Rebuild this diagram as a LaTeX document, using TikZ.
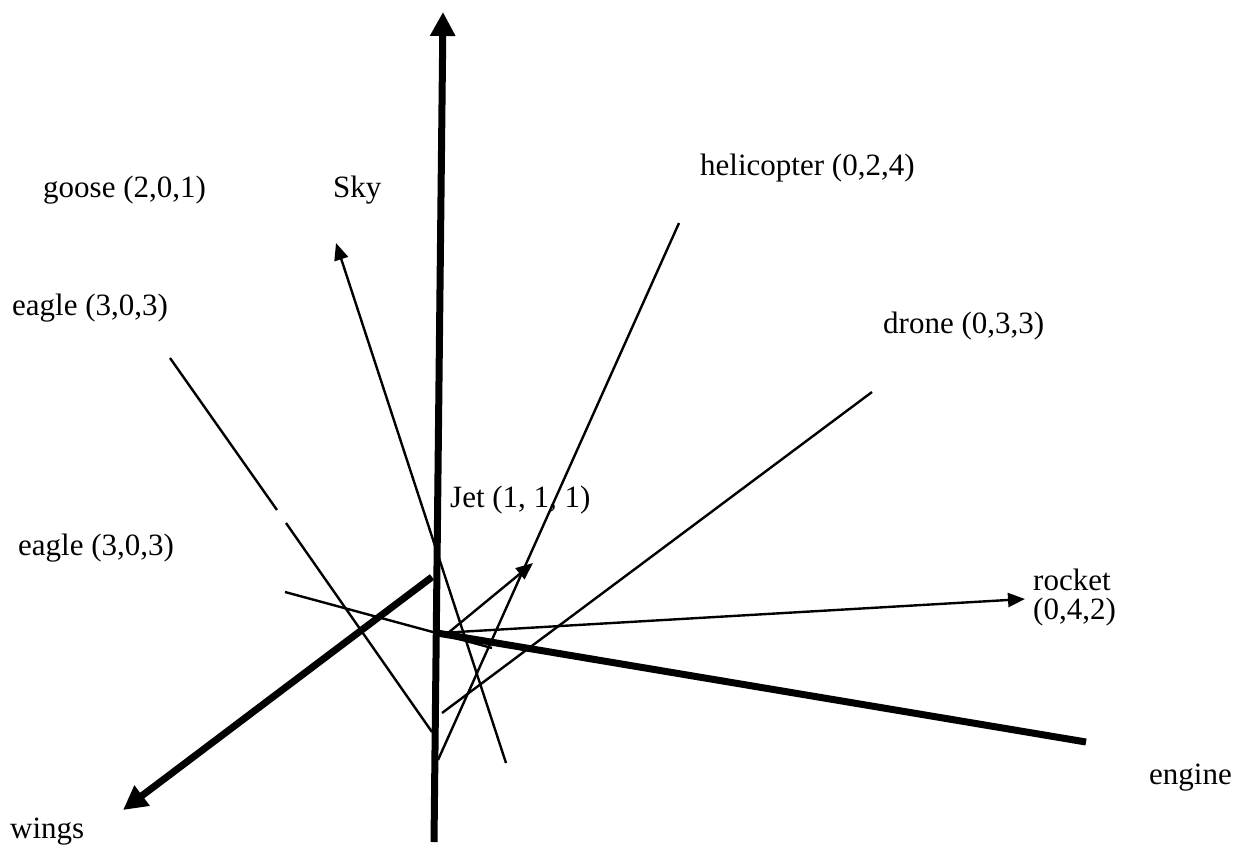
\documentclass[tikz,border=0pt]{standalone}
\usepackage{fontspec}
\setmainfont{Liberation Serif}
\usetikzlibrary{arrows.meta}
\begin{document}
\begin{tikzpicture}[x=1pt,y=-1pt,
  thinline/.style={line width=2.4pt},
  thickline/.style={line width=7pt},
  thinarrow/.style={thinline,-{Triangle[length=17pt,width=14pt]}},
  thickarrow/.style={thickline,-{Triangle[length=24pt,width=24pt]}},
  lbl/.style={inner sep=0pt,anchor=base west,font=\fontsize{31}{36}\selectfont}]
\useasboundingbox (0,0) rectangle (1236,849);
% labels
\node[lbl] (goose) at (43,197) {goose (2,0,1)};
\node[lbl] (sky) at (333,197) {Sky};
\node[lbl] (heli) at (700,175) {helicopter (0,2,4)};
\node[lbl] (eagleA) at (12,315) {eagle (3,0,3)};
\node[lbl] (drone) at (883,333) {drone (0,3,3)};
\node[lbl] (jet) at (450,507) {Jet (1, 1, 1)};
\node[lbl] (eagleB) at (18,555) {eagle (3,0,3)};
\node[lbl] (rocket) at (1033,590) {rocket};
\node[lbl] (rocketc) at (1033,619) {(0,4,2)};
\node[lbl] (engine) at (1149,784) {engine};
\node[lbl] (wings) at (10,838) {wings};
% coordinates
\coordinate (skyA) at (506,763);
\coordinate (skyB) at (336,243);
\coordinate (e1a) at (170,358);
\coordinate (e1b) at (277,510);
\coordinate (e1c) at (286,523);
\coordinate (e1d) at (432,732);
\coordinate (e2a) at (285,592);
\coordinate (e2b) at (492,648);
\coordinate (jetA) at (448,633);
\coordinate (jetB) at (533,563);
\coordinate (rocA) at (440,633);
\coordinate (rocB) at (1025,599);
\coordinate (helA) at (438,760);
\coordinate (helB) at (679,223);
\coordinate (drA) at (442,713);
\coordinate (drB) at (872,392);
\coordinate (vA) at (434,842);
\coordinate (vB) at (443,12);
\coordinate (wA) at (432,577);
\coordinate (wB) at (123,810);
\coordinate (enA) at (437,633);
\coordinate (enB) at (1086,742);
% thin lines
\draw[thinarrow] (skyA) -- (skyB);
\draw[thinline] (e1a) -- (e1b);
\draw[thinline] (e1c) -- (e1d);
\draw[thinline] (e2a) -- (e2b);
\draw[thinarrow] (jetA) -- (jetB);
\draw[thinarrow] (rocA) -- (rocB);
\draw[thinline] (helA) -- (helB);
\draw[thinline] (drA) -- (drB);
% thick axes
\draw[thickarrow] (vA) -- (vB);
\draw[thickarrow] (wA) -- (wB);
\draw[thickline] (enA) -- (enB);
\end{tikzpicture}
\end{document}
